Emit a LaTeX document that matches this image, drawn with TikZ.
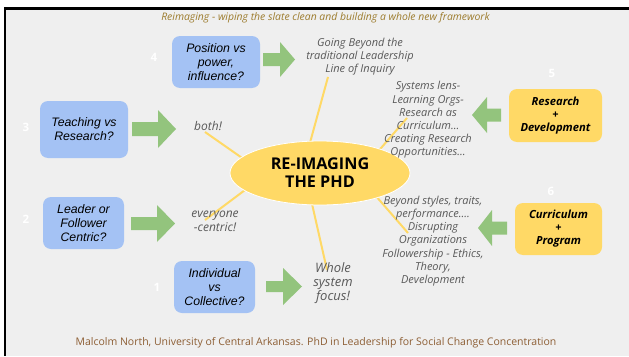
\documentclass[tikz,border=0pt]{standalone}
\usepackage{fontspec}
\setmainfont{Open Sans}
\newfontfamily\arialfont{Liberation Sans}
\definecolor{bgc}{HTML}{EFEFEF}
\definecolor{bluec}{HTML}{A4C2F4}
\definecolor{greenc}{HTML}{93C47D}
\definecolor{yellowc}{HTML}{FFD966}
\definecolor{grayt}{HTML}{595959}
\definecolor{titlec}{HTML}{9C7B2C}
\definecolor{footc}{HTML}{8D5E34}
\tikzset{
  bluebox/.style={fill=bluec, rounded corners=8pt, inner sep=0pt, align=center,
    font=\arialfont\itshape\fontsize{12.3}{14}\selectfont},
  yellowbox/.style={fill=yellowc, rounded corners=8pt, inner sep=0pt, align=center,
    font=\bfseries\itshape\fontsize{11.2}{13}\selectfont},
  greyt/.style={text=grayt, align=center, inner sep=0pt,
    font=\itshape\fontsize{11}{13.2}\selectfont},
  bigt/.style={text=grayt, align=center, inner sep=0pt,
    font=\itshape\fontsize{12}{14.5}\selectfont},
  numt/.style={text=white, inner sep=0pt, font=\bfseries\fontsize{11.5}{13}\selectfont},
  spoke/.style={draw=yellowc, line width=2pt},
  garrow/.style={fill=greenc}
}
\begin{document}
\begin{tikzpicture}[x=1pt,y=-1pt]
\useasboundingbox (0,0) rectangle (629,356);
\fill[white] (0,0) rectangle (629,356);
\fill[bgc] (6,10) rectangle (629,356);
\draw[line width=3pt] (4,8.5) -- (629,8.5);
\draw[line width=2pt] (5,7) -- (5,356);

% title
\node[text=titlec, inner sep=0pt, font=\itshape\fontsize{10.4}{12}\selectfont] (title) at (325.5,18)
  {Reimaging - wiping the slate clean and building a whole new framework};

% spokes (behind ellipse)
\coordinate (s4a) at (328,77);  \coordinate (s4b) at (308,150);
\coordinate (s3a) at (205,132); \coordinate (s3b) at (245,160);
\coordinate (s2a) at (205,220); \coordinate (s2b) at (245,190);
\coordinate (s1a) at (327,270); \coordinate (s1b) at (310,195);
\coordinate (s5a) at (407,118); \coordinate (s5b) at (375,155);
\coordinate (s6a) at (408,233); \coordinate (s6b) at (375,195);
\draw[spoke] (s4a) -- (s4b);
\draw[spoke] (s3a) -- (s3b);
\draw[spoke] (s2a) -- (s2b);
\draw[spoke] (s1a) -- (s1b);
\draw[spoke] (s5a) -- (s5b);
\draw[spoke] (s6a) -- (s6b);

% central ellipse
\fill[yellowc, draw=white, line width=0.8pt] (320,173) ellipse [x radius=90, y radius=32];
\node[inner sep=0pt, align=center, font=\bfseries\fontsize{16.2}{18}\selectfont] (ell) at (320,173)
  {RE-IMAGING\\THE PHD};

% blue boxes
\node[bluebox, minimum width=88pt, minimum height=52pt] (pos) at (216,62) {Position vs\\power,\\influence?};
\node[bluebox, minimum width=88pt, minimum height=57pt] (teach) at (84,129.5) {Teaching vs\\Research?};
\node[bluebox, minimum width=81pt, minimum height=52pt] (leader) at (83.5,223) {Leader or\\Follower\\Centric?};
\node[bluebox, minimum width=81pt, minimum height=52pt] (indiv) at (214.5,287) {Individual\\vs\\Collective?};

% yellow boxes
\node[yellowbox, minimum width=93pt, minimum height=53pt] (resdev) at (555.5,115.5) {Research\\+\\Development};
\node[yellowbox, minimum width=87pt, minimum height=52pt] (curprog) at (558.5,229) {Curriculum\\+\\Program};

% green arrows
\fill[garrow] (263,53) -- (280,53) -- (280,42) -- (295,59.5) -- (280,77) -- (280,66) -- (263,66) -- cycle;
\fill[garrow] (132,122) -- (158,122) -- (158,110) -- (176,129) -- (158,148) -- (158,136) -- (132,136) -- cycle;
\fill[garrow] (131,217) -- (157,217) -- (157,205) -- (175,223.5) -- (157,242) -- (157,230) -- (131,230) -- cycle;
\fill[garrow] (266,281) -- (283,281) -- (283,268) -- (302,286.5) -- (283,305) -- (283,292) -- (266,292) -- cycle;
\fill[garrow] (501,108.5) -- (487,108.5) -- (487,97) -- (472,115) -- (487,133) -- (487,121.5) -- (501,121.5) -- cycle;
\fill[garrow] (507,221.5) -- (492,221.5) -- (492,210) -- (478,228) -- (492,246) -- (492,234.5) -- (507,234.5) -- cycle;

% gray texts
\node[greyt] (going) at (360,56.5) {Going Beyond the\\traditional Leadership\\Line of Inquiry};
\node[greyt] (systems) at (428,120) {Systems lens-\\Learning Orgs-\\Research as\\Curriculum...\\Creating Research\\Opportunities...};
\node[greyt] (beyond) at (433,241) {Beyond styles, traits,\\performance....\\Disrupting\\Organizations\\Followership - Ethics,\\Theory,\\Development};
\node[bigt] (both) at (208,126.5) {both!};
\node[bigt] (every) at (215,221.5) {everyone\\-centric!};
\node[bigt, font=\itshape\fontsize{13}{14}\selectfont] (whole) at (333,283) {Whole\\system\\focus!};

% numbers
\node[numt] (n4) at (154,57) {4};
\node[numt] (n3) at (26,127.5) {3};
\node[numt] (n2) at (26,219) {2};
\node[numt] (n1) at (157,287) {1};
\node[numt] (n5) at (552,73) {5};
\node[numt] (n6) at (551,191.5) {6};

% footer
\node[text=footc, inner sep=0pt, font=\fontsize{10.5}{12}\selectfont] (foot) at (316,343)
  {Malcolm North, University of Central Arkansas. PhD in Leadership for Social Change Concentration};
\end{tikzpicture}
\end{document}
